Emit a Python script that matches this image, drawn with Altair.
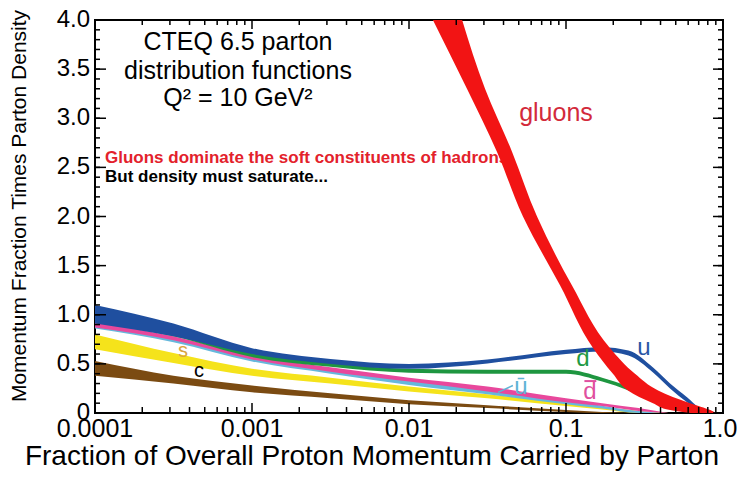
import altair as alt
import pandas as pd

# ---------------- data ----------------
u_x  = [0.0001, 0.000316, 0.001, 0.00316, 0.01, 0.0316, 0.1, 0.17, 0.25, 0.36, 0.46, 0.59, 0.71, 0.86]
u_hi = [1.10, 0.91, 0.66, 0.55, 0.50, 0.545, 0.645, 0.67, 0.635, 0.46, 0.30, 0.16, 0.05, 0.0]
u_lo = [0.91, 0.78, 0.60, 0.50, 0.45, 0.505, 0.60, 0.625, 0.585, 0.41, 0.25, 0.11, 0.02, 0.0]

d_x  = [0.0001, 0.000316, 0.001, 0.00316, 0.01, 0.0316, 0.1, 0.17, 0.25, 0.36, 0.5, 0.7]
d_hi = [1.00, 0.85, 0.62, 0.51, 0.45, 0.44, 0.44, 0.36, 0.27, 0.15, 0.05, 0.0]
d_lo = [0.92, 0.78, 0.57, 0.47, 0.41, 0.40, 0.40, 0.32, 0.23, 0.12, 0.03, 0.0]

db_x  = [0.0001, 0.000316, 0.001, 0.00316, 0.01, 0.0316, 0.1, 0.17, 0.29, 0.45]
db_hi = [0.93, 0.78, 0.585, 0.465, 0.36, 0.27, 0.15, 0.10, 0.05, 0.0]
db_lo = [0.87, 0.74, 0.545, 0.42, 0.32, 0.22, 0.11, 0.07, 0.02, 0.0]

ub_x  = [0.0001, 0.000316, 0.001, 0.00316, 0.01, 0.0316, 0.1, 0.17, 0.29, 0.45]
ub_hi = [0.91, 0.76, 0.565, 0.44, 0.33, 0.24, 0.13, 0.075, 0.02, 0.0]
ub_lo = [0.86, 0.72, 0.525, 0.40, 0.285, 0.19, 0.09, 0.045, 0.0, 0.0]

s_x  = [0.0001, 0.000316, 0.001, 0.00316, 0.01, 0.0316, 0.1, 0.17, 0.29, 0.45]
s_hi = [0.80, 0.61, 0.45, 0.36, 0.27, 0.19, 0.10, 0.06, 0.02, 0.0]
s_lo = [0.65, 0.51, 0.38, 0.30, 0.22, 0.15, 0.07, 0.035, 0.0, 0.0]

c_x  = [0.0001, 0.000316, 0.001, 0.00316, 0.01, 0.0316, 0.1, 0.17, 0.3]
c_hi = [0.53, 0.38, 0.28, 0.20, 0.13, 0.08, 0.03, 0.01, 0.0]
c_lo = [0.38, 0.30, 0.21, 0.15, 0.09, 0.05, 0.01, 0.0, 0.0]

g_v     = [0.0, 0.03, 0.10, 0.23, 0.40, 0.66, 1.3, 2.0, 2.66, 3.3, 4.0]
g_left  = [0.62, 0.46, 0.358, 0.248, 0.199, 0.149, 0.0916, 0.0532, 0.0363, 0.0234, 0.0142]
g_right = [0.90, 0.83, 0.616, 0.386, 0.275, 0.191, 0.109, 0.0654, 0.0453, 0.0305, 0.0218]

head_text = ["CTEQ 6.5 parton", "distribution functions", "Q\u00b2 = 10 GeV\u00b2"]
head_x = [0.000814, 0.000814, 0.000814]
head_y = [3.78, 3.48, 3.21]

note_text = ["Gluons dominate the soft constituents of hadrons", "But density must saturate..."]
note_x = [0.0001158, 0.0001158]
note_y = [2.60, 2.40]
note_color = ["#e3212b", "#000000"]

lab_text = ["gluons", "u", "d", "d", "\u016b", "s", "c"]
lab_x = [0.0863, 0.314, 0.128, 0.142, 0.0516, 0.000363, 0.000459]
lab_y = [3.05, 0.66, 0.55, 0.21, 0.26, 0.63, 0.43]
lab_color = ["#d32a3b", "#2a56a6", "#1f9a44", "#e0509e", "#5fb3d6", "#d9a441", "#000000"]
lab_size = [25, 24, 24, 24, 24, 20, 20]

# bar over the anti-d label, and the small pointer of the anti-u label
bar_x, bar_x2, bar_y = 0.131, 0.156, 0.325
arrow_x, arrow_x2, arrow_y, arrow_y2 = 0.0459, 0.0369, 0.28, 0.21

# axes: tick values, tick labels, titles
dec = [0.0001, 0.001, 0.01, 0.1, 1.0]
x_tick_labels = ["0.0001", "0.001", "0.01", "0.1", "1.0"]
minor_x = [m * d for d in [0.0001, 0.001, 0.01, 0.1] for m in range(2, 10)]
major_y = [i * 0.5 for i in range(9)]
y_tick_labels = ["0", "0.5", "1.0", "1.5", "2.0", "2.5", "3.0", "3.5", "4.0"]
minor_y = [round(i * 0.1, 1) for i in range(41)]
X_MIN, X_MAX, Y_MIN, Y_MAX = 0.0001, 1.0, 0.0, 4.0

x_title = "Fraction of Overall Proton Momentum Carried by Parton"
x_title_x = 0.00581
y_title = "Momentum Fraction Times Parton Density"
y_title_x = 0.0000333
y_title_y = 2.107

# ---------------- layout / style ----------------
W, H = 628, 393
FONT = "Liberation Sans"
xs = alt.Scale(type="log", domain=[X_MIN, X_MAX], nice=False)
ys = alt.Scale(domain=[Y_MIN, Y_MAX], nice=False, zero=False)
PX_PER_Y = H / (Y_MAX - Y_MIN)          # pixels per density unit
PX_PER_DEC = W / 4.0                    # pixels per decade of x


def X(field):
    return alt.X(field, type="quantitative", scale=xs, axis=None)


def Y(field):
    return alt.Y(field, type="quantitative", scale=ys, axis=None)


def band(xv, hi, lo, color):
    df = pd.DataFrame({"x": xv, "hi": hi, "lo": lo})
    return alt.Chart(df).mark_area(color=color, interpolate="monotone", clip=True).encode(
        x=X("x"), y=Y("hi"), y2="lo:Q",
    )


def text_layer(xv, yv, tv, **mark):
    df = pd.DataFrame({"x": xv, "y": yv, "t": tv})
    return alt.Chart(df).mark_text(font=FONT, color="black", **mark).encode(
        x=X("x"), y=Y("y"), text="t:N")


# ---- all short line segments (inward frame ticks, d-bar, u-bar pointer) in ONE rule layer ----
seg = {"x": [], "x2": [], "y": [], "y2": [], "c": [], "w": []}


def add_seg(x, x2, y, y2, c="black", w=1.5):
    seg["x"].append(x); seg["x2"].append(x2); seg["y"].append(y); seg["y2"].append(y2)
    seg["c"].append(c); seg["w"].append(w)


for vals, edge, length, inward in [(dec, Y_MIN, 10, 1), (minor_x, Y_MIN, 6, 1),
                                   (dec, Y_MAX, 9, -1), (minor_x, Y_MAX, 5, -1)]:
    dy = inward * length / PX_PER_Y
    for v in vals:
        add_seg(v, v, edge, edge + dy)

for vals, edge, length, inward in [(major_y, X_MIN, 11, 1), (minor_y, X_MIN, 5, 1),
                                   (major_y, X_MAX, 10, -1), (minor_y, X_MAX, 5, -1)]:
    f = 10 ** (inward * length / PX_PER_DEC)
    for v in vals:
        add_seg(edge, edge * f, v, v)

add_seg(bar_x, bar_x2, bar_y, bar_y, "#e0509e", 2)
add_seg(arrow_x, arrow_x2, arrow_y, arrow_y2, "#5fb3d6", 1.5)

rules = alt.Chart(pd.DataFrame(seg)).mark_rule().encode(
    x=X("x"), x2="x2:Q", y=Y("y"), y2="y2:Q",
    color=alt.Color("c:N", scale=None), strokeWidth=alt.StrokeWidth("w:Q", scale=None),
)

axis_text = [
    text_layer(dec[:-1], [Y_MIN] * (len(dec) - 1), x_tick_labels[:-1],
               fontSize=25, align="center", baseline="top", dy=4),
    text_layer(dec[-1:], [Y_MIN], x_tick_labels[-1:],
               fontSize=25, align="center", baseline="top", dy=4, dx=-3),
    text_layer([X_MIN] * len(major_y), major_y, y_tick_labels,
               fontSize=24, align="right", baseline="middle", dx=-5),
    text_layer([x_title_x], [Y_MIN], [x_title],
               fontSize=28, align="center", baseline="alphabetic", dy=52),
    text_layer([y_title_x], [y_title_y], [y_title],
               fontSize=21, align="center", baseline="middle", angle=270),
]

head = text_layer(head_x, head_y, head_text, fontSize=25, align="center", baseline="middle")

notes = alt.Chart(pd.DataFrame({"x": note_x, "y": note_y, "t": note_text, "c": note_color})).mark_text(
    font=FONT, fontSize=17, fontWeight="bold", align="left", baseline="middle"
).encode(x=X("x"), y=Y("y"), text="t:N", color=alt.Color("c:N", scale=None))

gluon = alt.Chart(pd.DataFrame({"v": g_v, "lo": g_left, "hi": g_right})).mark_area(
    color="#f21414", orient="horizontal", interpolate="monotone", clip=True
).encode(y=Y("v"), x=X("lo"), x2="hi:Q")

labels = alt.Chart(pd.DataFrame({"x": lab_x, "y": lab_y, "t": lab_text, "c": lab_color, "s": lab_size})).mark_text(
    font=FONT, align="center", baseline="middle"
).encode(x=X("x"), y=Y("y"), text="t:N",
         color=alt.Color("c:N", scale=None), size=alt.Size("s:Q", scale=None))

chart = alt.layer(
    head, notes,
    band(c_x, c_hi, c_lo, "#7b4b12"),
    band(s_x, s_hi, s_lo, "#f5e31b"),
    band(ub_x, ub_hi, ub_lo, "#66b8dc"),
    band(db_x, db_hi, db_lo, "#e8489c"),
    band(d_x, d_hi, d_lo, "#1e9640"),
    band(u_x, u_hi, u_lo, "#1f4f9f"),
    gluon, labels, rules,
    *axis_text,
).properties(
    width=W, height=H,
    autosize=alt.AutoSizeParams(type="none"),
    padding={"left": 87, "top": 12, "right": 14, "bottom": 59},
    background="white",
).configure_view(stroke="black", strokeWidth=2)

chart.save("out.html", embed_options={"renderer": "svg", "actions": False})
